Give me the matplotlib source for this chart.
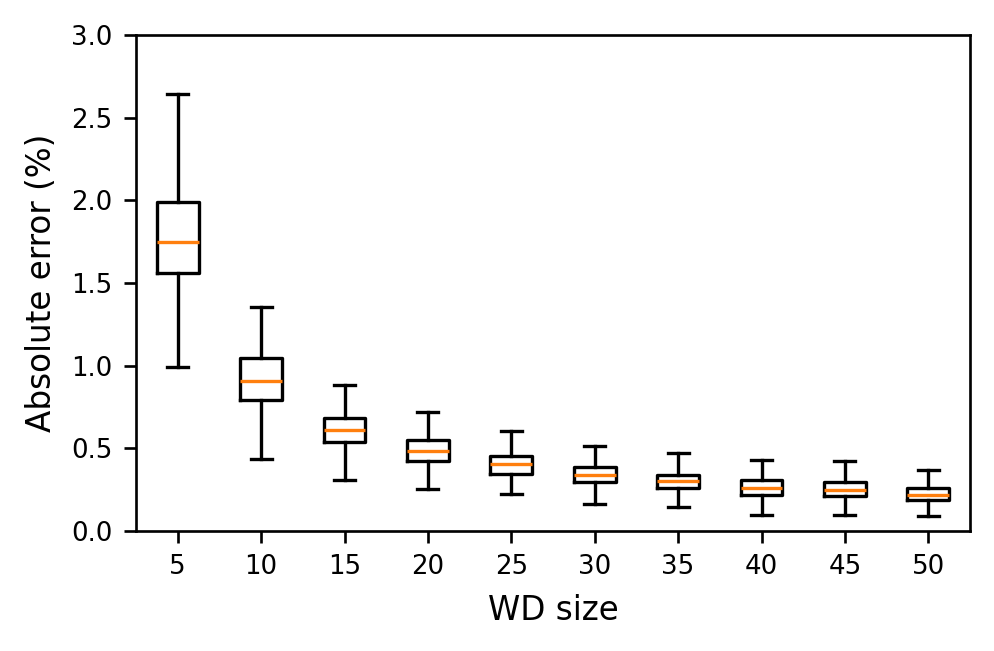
import matplotlib
matplotlib.use("Agg")
import matplotlib.pyplot as plt

labels = ["5", "10", "15", "20", "25", "30", "35", "40", "45", "50"]
whislo = [0.994, 0.434, 0.310, 0.254, 0.222, 0.165, 0.143, 0.099, 0.095, 0.091]
q1 = [1.559, 0.792, 0.536, 0.425, 0.345, 0.294, 0.258, 0.220, 0.210, 0.187]
med = [1.746, 0.909, 0.609, 0.486, 0.403, 0.341, 0.302, 0.260, 0.248, 0.218]
q3 = [1.992, 1.045, 0.685, 0.548, 0.456, 0.385, 0.341, 0.307, 0.298, 0.260]
whishi = [2.643, 1.353, 0.885, 0.722, 0.607, 0.516, 0.470, 0.429, 0.423, 0.367]

stats = [dict(label=l, whislo=a, q1=b, med=c, q3=d, whishi=e, fliers=[])
         for l, a, b, c, d, e in zip(labels, whislo, q1, med, q3, whishi)]

dpi = 240
fig = plt.figure(figsize=(995/dpi, 651/dpi), dpi=dpi)
ax = fig.add_axes([136/995, 1 - 531/651, (970-136)/995, (531-35)/651])
ax.bxp(stats, showfliers=False)
ax.set_ylim(0, 3.0)
ax.set_yticks([0, 0.5, 1.0, 1.5, 2.0, 2.5, 3.0])
ax.tick_params(labelsize=7.8)
ax.set_xlabel("WD size", fontsize=9.8)
ax.set_ylabel("Absolute error (%)", fontsize=9.8)
fig.savefig("out.png", dpi=dpi)
